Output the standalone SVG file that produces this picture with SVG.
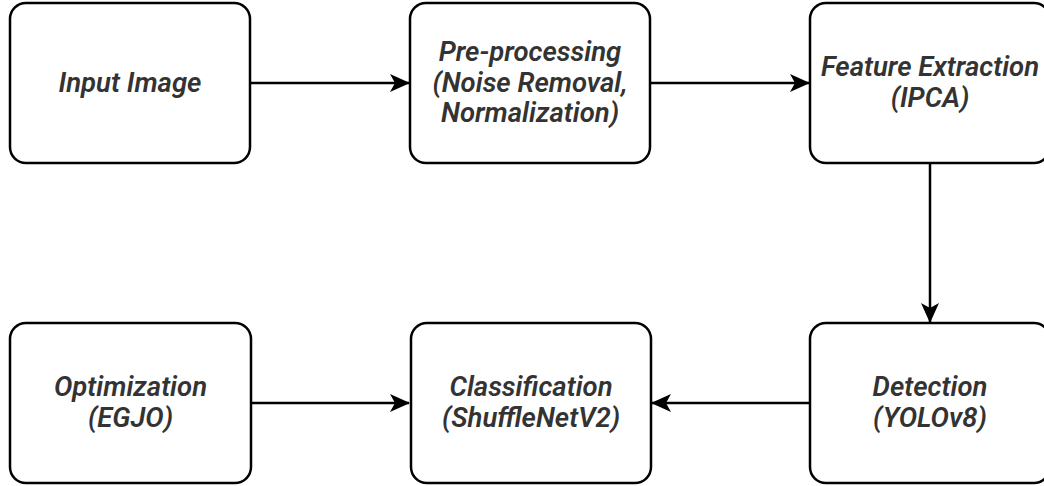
<svg xmlns="http://www.w3.org/2000/svg" width="1044" height="486" viewBox="0 0 1044 486">
<style>
.box{fill:#fff;stroke:#000;stroke-width:2.5}
.t{font-family:Roboto,"Liberation Sans",sans-serif;font-style:italic;font-weight:600;font-size:27.5px;fill:#333;text-anchor:middle}
.e{stroke:#000;stroke-width:2.5;fill:none}
</style>
<defs>
<marker id="arr" viewBox="0 0 20 18" refX="19" refY="9" markerWidth="20" markerHeight="18" markerUnits="userSpaceOnUse" orient="auto">
<path d="M0,0 L20,9 L0,18 L5,9 Z" fill="#000"/>
</marker>
</defs>
<rect width="1044" height="486" fill="#fff"/>
<g id="connectors">
<line class="e" x1="250" y1="83" x2="409" y2="83" marker-end="url(#arr)"/>
<line class="e" x1="650" y1="83" x2="809" y2="83" marker-end="url(#arr)"/>
<line class="e" x1="930" y1="163" x2="930" y2="322" marker-end="url(#arr)"/>
<line class="e" x1="810" y1="403" x2="652" y2="403" marker-end="url(#arr)"/>
<line class="e" x1="251" y1="403" x2="409" y2="403" marker-end="url(#arr)"/>
</g>
<g id="input">
<rect class="box" x="10" y="3" width="240" height="160" rx="16"/>
<text class="t" x="130" y="92">Input Image</text>
</g>
<g id="preprocessing">
<rect class="box" x="410" y="3" width="240" height="160" rx="16"/>
<text class="t" x="530" y="60.5">Pre-processing</text>
<text class="t" x="530" y="91.5">(Noise Removal,</text>
<text class="t" x="530" y="122">Normalization)</text>
</g>
<g id="feature">
<rect class="box" x="810" y="3" width="240" height="160" rx="16"/>
<text class="t" x="930" y="76">Feature Extraction</text>
<text class="t" x="930" y="107">(IPCA)</text>
</g>
<g id="detection">
<rect class="box" x="810" y="323" width="240" height="160" rx="16"/>
<text class="t" x="930" y="396">Detection</text>
<text class="t" x="930" y="427">(YOLOv8)</text>
</g>
<g id="classification">
<rect class="box" x="411" y="323" width="240" height="160" rx="16"/>
<text class="t" x="531" y="396">Classification</text>
<text class="t" x="531" y="427">(ShuffleNetV2)</text>
</g>
<g id="optimization">
<rect class="box" x="10" y="323" width="241" height="160" rx="16"/>
<text class="t" x="130.5" y="396">Optimization</text>
<text class="t" x="130.5" y="427">(EGJO)</text>
</g>
</svg>
